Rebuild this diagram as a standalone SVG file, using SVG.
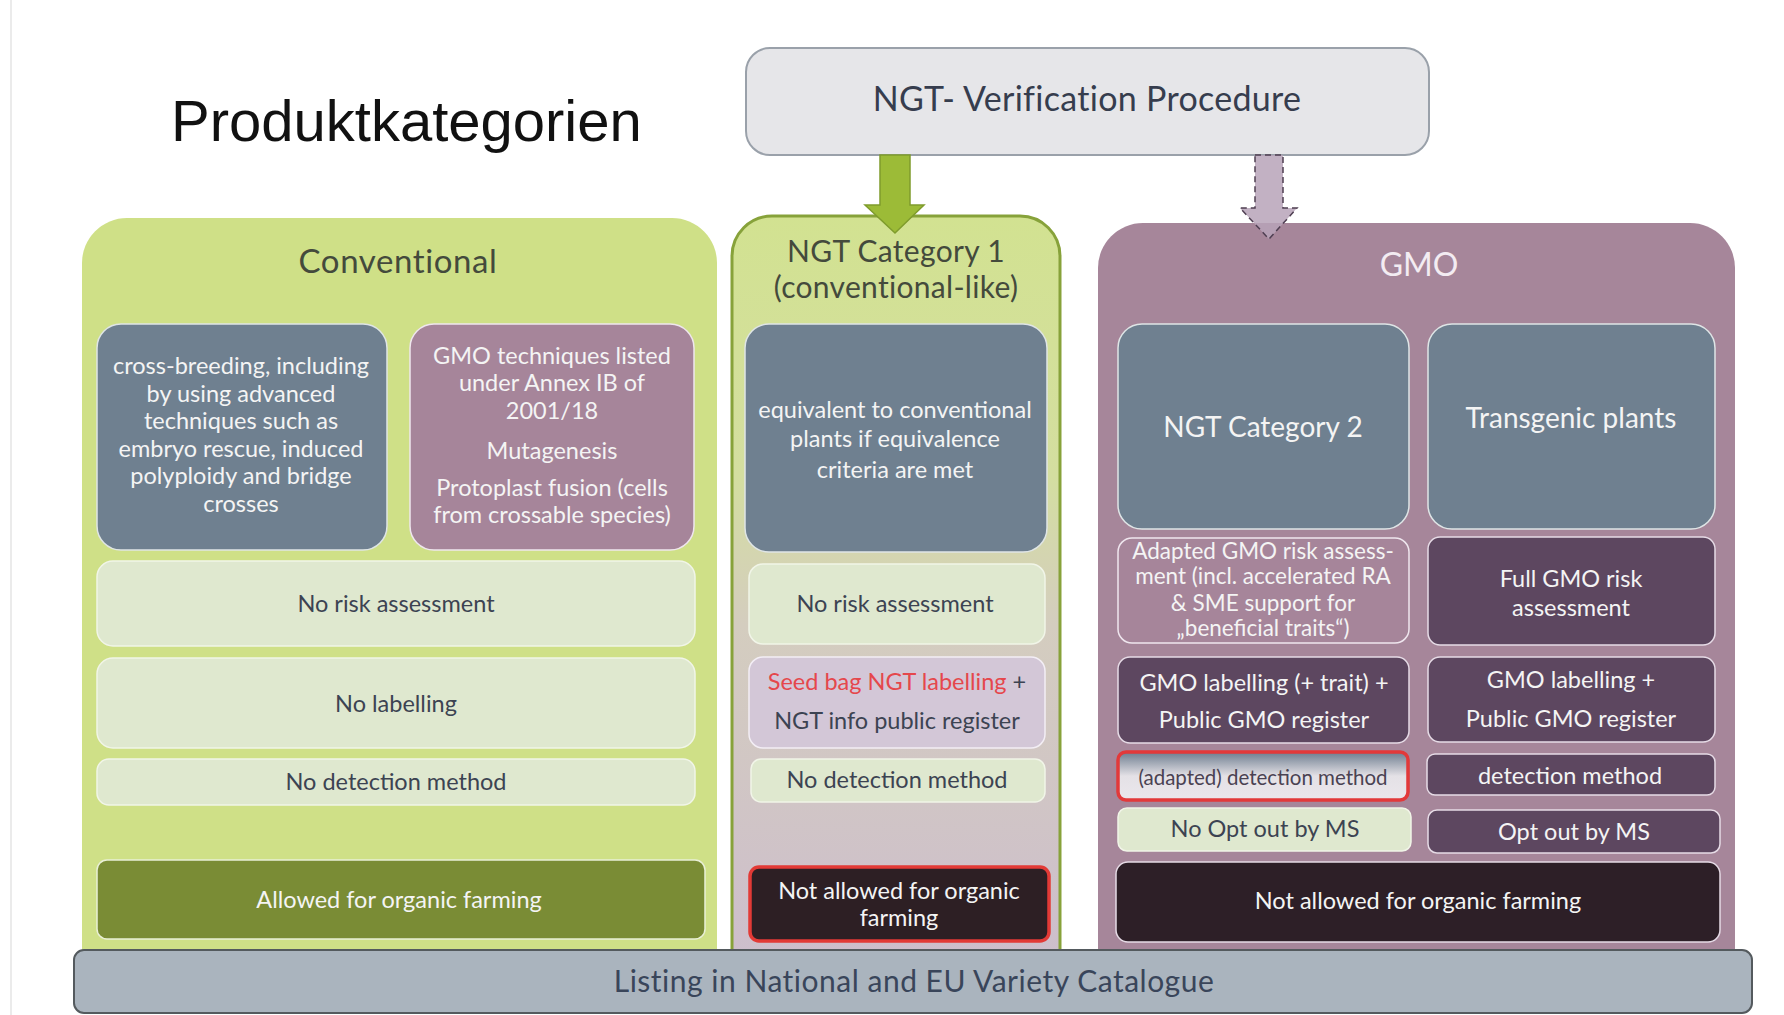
<svg xmlns="http://www.w3.org/2000/svg" width="1784" height="1015" viewBox="0 0 1784 1015">
<defs>
<linearGradient id="gNgt1" x1="0" y1="0" x2="0" y2="1">
<stop offset="0" stop-color="#d2e291"/>
<stop offset="0.35" stop-color="#d4dea0"/>
<stop offset="0.55" stop-color="#d4cdbf"/>
<stop offset="1" stop-color="#cdbecc"/>
</linearGradient>
<linearGradient id="gAdapt" x1="0" y1="0" x2="0" y2="1">
<stop offset="0" stop-color="#6c7c8e"/>
<stop offset="0.5" stop-color="#e4e1e6"/>
<stop offset="1" stop-color="#ebe7ec"/>
</linearGradient>
</defs>
<style>
text{font-family:Lato,"Open Sans","DejaVu Sans",sans-serif;text-anchor:middle}
.title{font-family:"Liberation Sans",Arial,sans-serif;font-size:58px;fill:#111;text-anchor:start}
.head{font-size:33px;fill:#444a3c;letter-spacing:0.6px}
.slate{fill:#6f8090;stroke:#dfe5e6;stroke-width:1.5}
.mauve{fill:#a6859a;stroke:#efe6ee;stroke-width:1.5}
.pale{fill:#dfe8cf;stroke:#f1f5e8;stroke-width:1.5}
.lav{fill:#d3c7d7;stroke:#f3eef5;stroke-width:1.5}
.dark{fill:#5d4760;stroke:#e6dbe6;stroke-width:1.5}
.black{fill:#2d1f27;stroke:#e6dbe6;stroke-width:1.5}
.w{fill:#f4f4f4;font-size:23.5px}
.d{fill:#3c4352;font-size:23.5px}
</style>
<rect width="1784" height="1015" fill="#ffffff"/>
<line x1="11" y1="0" x2="11" y2="1015" stroke="#e4e4e4" stroke-width="1.5"/>

<text class="title" x="171" y="141">Produktkategorien</text>

<g id="verification">
<rect x="746" y="48" width="683" height="107" rx="24" fill="#e6e6e9" stroke="#9aa1aa" stroke-width="2"/>
<text x="1087" y="111" style="font-size:34px;fill:#363d4e;letter-spacing:0.3px">NGT- Verification Procedure</text>
</g>

<g id="conventional">
<path d="M82,263 a45,45 0 0 1 45,-45 h545 a45,45 0 0 1 45,45 V960 H82 Z" fill="#cfe087"/>
<text class="head" x="398" y="273">Conventional</text>
<g id="conv-crossbreeding">
<rect class="slate" x="97" y="324" width="290" height="226" rx="24"/>
<text class="w"><tspan x="241" y="374">cross-breeding, including</tspan><tspan x="241" y="402">by using advanced</tspan><tspan x="241" y="429">techniques such as</tspan><tspan x="241" y="457">embryo rescue, induced</tspan><tspan x="241" y="484">polyploidy and bridge</tspan><tspan x="241" y="512">crosses</tspan></text>
</g>
<g id="conv-gmotech">
<rect class="mauve" x="410" y="324" width="284" height="226" rx="24"/>
<text class="w"><tspan x="552" y="364">GMO techniques listed</tspan><tspan x="552" y="391">under Annex IB of</tspan><tspan x="552" y="419">2001/18</tspan><tspan x="552" y="459">Mutagenesis</tspan><tspan x="552" y="496">Protoplast fusion (cells</tspan><tspan x="552" y="523">from crossable species)</tspan></text>
</g>
<g id="conv-risk">
<rect class="pale" x="97" y="561" width="598" height="85" rx="16"/>
<text class="d" x="396" y="612">No risk assessment</text>
</g>
<g id="conv-label">
<rect class="pale" x="97" y="658" width="598" height="90" rx="16"/>
<text class="d" x="396" y="712">No labelling</text>
</g>
<g id="conv-detect">
<rect class="pale" x="97" y="759" width="598" height="46" rx="12"/>
<text class="d" x="396" y="790">No detection method</text>
</g>
<g id="conv-organic">
<rect x="97" y="860" width="608" height="79" rx="10" fill="#7a8c35" stroke="#e9efd6" stroke-width="1.5"/>
<text class="w" x="399" y="908">Allowed for organic farming</text>
</g>
</g>

<g id="ngt1">
<path d="M732,256 a40,40 0 0 1 40,-40 h248 a40,40 0 0 1 40,40 V960 H732 Z" fill="url(#gNgt1)" stroke="#87a23a" stroke-width="3"/>
<text class="head" style="font-size:30px;letter-spacing:0.3px"><tspan x="896" y="262">NGT Category 1</tspan><tspan x="896" y="298">(conventional-like)</tspan></text>
<g id="ngt1-equiv">
<rect class="slate" x="745" y="324" width="302" height="228" rx="24"/>
<text class="w"><tspan x="895" y="418">equivalent to conventional</tspan><tspan x="895" y="447">plants if equivalence</tspan><tspan x="895" y="478">criteria are met</tspan></text>
</g>
<g id="ngt1-risk">
<rect class="pale" x="749" y="564" width="296" height="80" rx="14"/>
<text class="d" x="895" y="612">No risk assessment</text>
</g>
<g id="ngt1-label">
<rect class="lav" x="749" y="657" width="296" height="91" rx="14"/>
<text class="d" x="897" y="690"><tspan fill="#e5474c">Seed bag NGT labelling</tspan> +</text>
<text class="d" x="897" y="729">NGT info public register</text>
</g>
<g id="ngt1-detect">
<rect class="pale" x="751" y="759" width="294" height="43" rx="10"/>
<text class="d" x="897" y="788">No detection method</text>
</g>
<g id="ngt1-organic">
<rect x="750" y="867" width="299" height="74" rx="9" fill="#2d1f24" stroke="#e23a36" stroke-width="3.5"/>
<text class="w"><tspan x="899" y="899">Not allowed for organic</tspan><tspan x="899" y="926">farming</tspan></text>
</g>
</g>

<g id="gmo">
<path d="M1098,268 a45,45 0 0 1 45,-45 h547 a45,45 0 0 1 45,45 V960 H1098 Z" fill="#a6869a"/>
<text class="head" x="1419" y="276" style="fill:#f3ecf2;font-size:32px;letter-spacing:0">GMO</text>
<g id="gmo-ngt2">
<rect class="slate" x="1118" y="324" width="291" height="205" rx="24"/>
<text class="w" x="1263" y="437" style="font-size:28px">NGT Category 2</text>
</g>
<g id="gmo-transgenic">
<rect class="slate" x="1428" y="324" width="287" height="205" rx="24"/>
<text class="w" x="1571" y="428" style="font-size:28px">Transgenic plants</text>
</g>
<g id="gmo-adapted-risk">
<rect class="mauve" x="1118" y="538" width="291" height="105" rx="14"/>
<text class="w" style="font-size:22.5px"><tspan x="1263" y="559">Adapted GMO risk assess-</tspan><tspan x="1263" y="584">ment (incl. accelerated RA</tspan><tspan x="1263" y="611">&amp; SME support for</tspan><tspan x="1263" y="636">„beneficial traits“)</tspan></text>
</g>
<g id="gmo-full-risk">
<rect class="dark" x="1428" y="537" width="287" height="108" rx="12"/>
<text class="w"><tspan x="1571" y="587">Full GMO risk</tspan><tspan x="1571" y="616">assessment</tspan></text>
</g>
<g id="gmo-label2">
<rect class="dark" x="1118" y="657" width="291" height="86" rx="12"/>
<text class="w"><tspan x="1264" y="691">GMO labelling (+ trait) +</tspan><tspan x="1264" y="728">Public GMO register</tspan></text>
</g>
<g id="gmo-labelt">
<rect class="dark" x="1428" y="657" width="287" height="85" rx="12"/>
<text class="w"><tspan x="1571" y="688">GMO labelling +</tspan><tspan x="1571" y="727">Public GMO register</tspan></text>
</g>
<g id="gmo-adapted-detect">
<rect x="1118" y="752" width="290" height="48" rx="8" fill="url(#gAdapt)" stroke="#e2393a" stroke-width="3.5"/>
<text x="1263" y="785" style="font-size:20.5px;fill:#4a4252">(adapted) detection method</text>
</g>
<g id="gmo-detect">
<rect class="dark" x="1427" y="754" width="288" height="41" rx="8"/>
<text class="w" x="1570" y="784">detection method</text>
</g>
<g id="gmo-noopt">
<rect class="pale" x="1118" y="808" width="293" height="43" rx="9"/>
<text class="d" x="1265" y="837">No Opt out by MS</text>
</g>
<g id="gmo-opt">
<rect class="dark" x="1428" y="810" width="292" height="43" rx="9"/>
<text class="w" x="1574" y="840">Opt out by MS</text>
</g>
<g id="gmo-organic">
<rect class="black" x="1116" y="862" width="604" height="80" rx="12"/>
<text class="w" x="1418" y="909">Not allowed for organic farming</text>
</g>
</g>

<g id="connectors">
<polygon points="880,155 910,155 910,205 924,205 895,233 865,205 880,205" fill="#9cbb37" stroke="#7f9c2c" stroke-width="1.5"/>
<polygon points="1255,155 1283,155 1283,208 1297,208 1269,239 1240,208 1255,208" fill="#b7a3b9" fill-opacity="0.85" stroke="#4f3f52" stroke-width="1.5" stroke-dasharray="6,4"/>
</g>

<g id="listing">
<rect x="74" y="950" width="1678" height="63" rx="10" fill="#aab4be" stroke="#545a5e" stroke-width="2"/>
<text x="914" y="992" style="font-size:30px;fill:#39455a;letter-spacing:0.5px">Listing in National and EU Variety Catalogue</text>
</g>
</svg>
